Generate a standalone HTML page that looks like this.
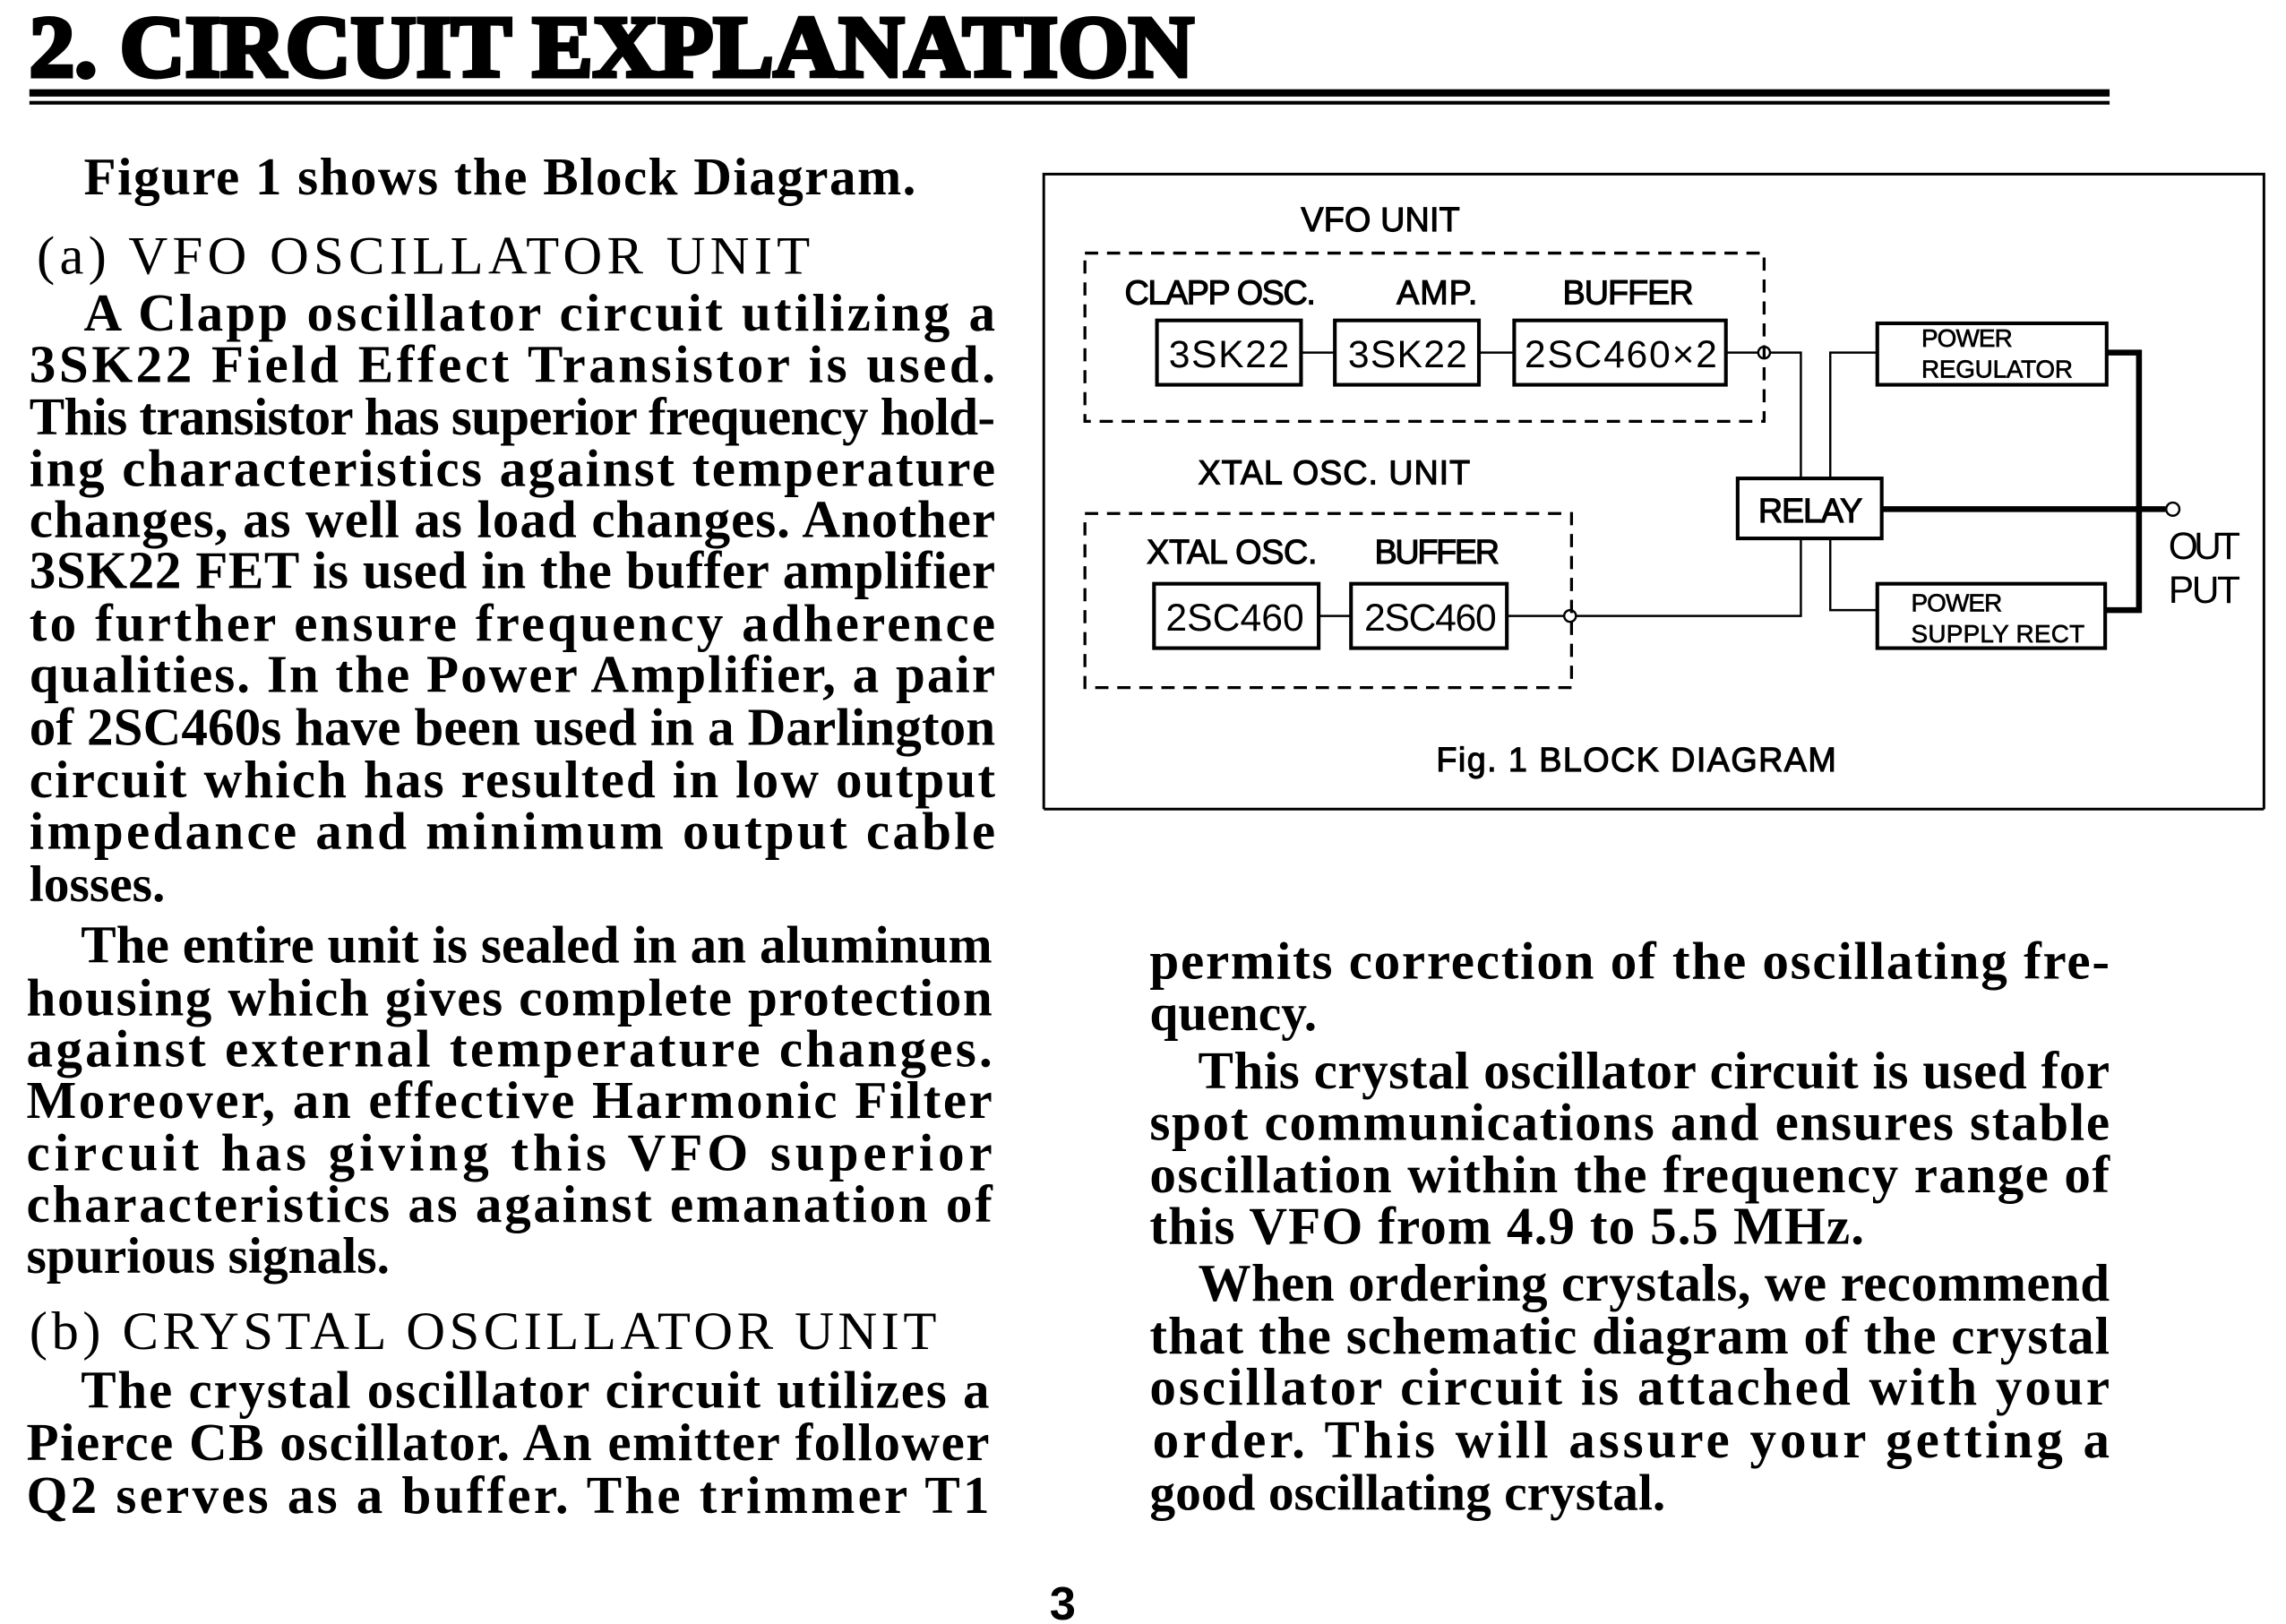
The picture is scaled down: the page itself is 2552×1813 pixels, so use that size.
<!DOCTYPE html>
<html><head><meta charset="utf-8"><style>
html,body{margin:0;padding:0;background:#fff;}
svg{display:block;}
.b{font-family:"Liberation Serif",serif;font-size:36px;font-weight:bold;fill:#000;}
.sh{font-size:35px;}
.h{font-family:"Liberation Serif",serif;font-size:37px;font-weight:normal;fill:#000;}
.d{font-family:"Liberation Sans",sans-serif;font-size:23px;font-weight:normal;fill:#000;stroke:#000;stroke-width:0.7;}
.n{font-family:"Liberation Sans",sans-serif;font-size:26px;fill:#000;}
.s{font-family:"Liberation Sans",sans-serif;font-size:17px;fill:#000;stroke:#000;stroke-width:0.4;}
</style></head><body>
<svg width="2552" height="1813" viewBox="0 0 1555 1110" preserveAspectRatio="none" xmlns="http://www.w3.org/2000/svg">
<rect width="1555" height="1110" fill="#fff"/>
<text x="20" y="52" textLength="792" lengthAdjust="spacingAndGlyphs" style="font-family:'Liberation Serif',serif;font-size:60px;font-weight:900;stroke:#000;stroke-width:3">2. CIRCUIT EXPLANATION</text>
<rect x="20" y="61" width="1415" height="5" fill="#000"/>
<rect x="20" y="69" width="1415" height="2.5" fill="#000"/>

<g class="b" lengthAdjust="spacingAndGlyphs">
<text x="57" y="133" textLength="566">Figure 1 shows the Block Diagram.</text>
<text class="h" x="25" y="187" textLength="526">(a)  VFO OSCILLATOR UNIT</text>
<text x="57" y="226" textLength="620">A Clapp oscillator circuit utilizing a</text>
<text x="20" y="261" textLength="657">3SK22 Field Effect Transistor is used.</text>
<text x="20" y="297" textLength="657">This transistor has superior frequency hold-</text>
<text x="20" y="332" textLength="657">ing characteristics against temperature</text>
<text x="20" y="367" textLength="657">changes, as well as load changes. Another</text>
<text x="20" y="402" textLength="657">3SK22 FET is used in the buffer amplifier</text>
<text x="20" y="438" textLength="657">to further ensure frequency adherence</text>
<text x="20" y="473" textLength="657">qualities. In the Power Amplifier, a pair</text>
<text x="20" y="509" textLength="657">of 2SC460s have been used in a Darlington</text>
<text x="20" y="545" textLength="657">circuit which has resulted in low output</text>
<text x="20" y="580" textLength="657">impedance and minimum output cable</text>
<text class="b sh" x="20" y="616">losses.</text>
<text x="55" y="658" textLength="620">The entire unit is sealed in an aluminum</text>
<text x="18" y="694" textLength="657">housing which gives complete protection</text>
<text x="18" y="729" textLength="657">against external temperature changes.</text>
<text x="18" y="764" textLength="657">Moreover, an effective Harmonic Filter</text>
<text x="18" y="800" textLength="657">circuit has giving this VFO superior</text>
<text x="18" y="835" textLength="657">characteristics as against emanation of</text>
<text class="b sh" x="18" y="870">spurious signals.</text>
<text class="h" x="20" y="922" textLength="617">(b)  CRYSTAL OSCILLATOR UNIT</text>
<text x="55" y="962" textLength="618">The crystal oscillator circuit utilizes a</text>
<text x="18" y="998" textLength="655">Pierce CB oscillator. An emitter follower</text>
<text x="18" y="1034" textLength="655">Q2 serves as a buffer. The trimmer T1</text>

<text x="782" y="669" textLength="653">permits correction of the oscillating fre-</text>
<text class="b sh" x="782" y="704">quency.</text>
<text x="815" y="744" textLength="620">This crystal oscillator circuit is used for</text>
<text x="782" y="779" textLength="653">spot communications and ensures stable</text>
<text x="782" y="815" textLength="653">oscillation within the frequency range of</text>
<text x="782" y="850" textLength="486">this VFO from 4.9 to 5.5 MHz.</text>
<text x="815" y="889" textLength="620">When ordering crystals, we recommend</text>
<text x="782" y="925" textLength="653">that the schematic diagram of the crystal</text>
<text x="782" y="960" textLength="653">oscillator circuit is attached with your</text>
<text x="784" y="996" textLength="651">order. This will assure your getting a</text>
<text class="b sh" x="782" y="1032">good oscillating crystal.</text>
<text x="714" y="1107" textLength="18" style="font-family:'Liberation Sans',sans-serif;font-size:32px">3</text>
</g>

<g fill="none" stroke="#000">
<path d="M710 553 V119 H1540 V553 M710 553 H1540" stroke-width="1.8"/>
<rect x="738" y="173" width="462" height="115" stroke-width="2" stroke-dasharray="9,6"/>
<rect x="738" y="351" width="331" height="119" stroke-width="2" stroke-dasharray="9,6"/>
<rect x="787" y="219" width="98" height="44" stroke-width="2.5"/>
<rect x="908" y="219" width="98" height="44" stroke-width="2.5"/>
<rect x="1030" y="219" width="144" height="44" stroke-width="2.5"/>
<rect x="785" y="399" width="112" height="44" stroke-width="2.5"/>
<rect x="919" y="399" width="106" height="44" stroke-width="2.5"/>
<rect x="1182" y="327" width="98" height="41" stroke-width="2.5"/>
<rect x="1277" y="221" width="156" height="42" stroke-width="2.5"/>
<rect x="1277" y="399" width="155" height="44" stroke-width="2.5"/>
<path d="M885 241 H908 M1006 241 H1030 M1174 241 H1196 M1204 241 H1225 V327 M1225 368 V421 H1072 M1064 421 H1025 M897 421 H919" stroke-width="1.5"/>
<path d="M1277 241 H1245 V327 M1245 368 V417 H1277" stroke-width="1.5"/>
<circle cx="1200" cy="241" r="4" stroke-width="1.5"/>
<circle cx="1068" cy="421" r="4" stroke-width="1.5"/>
<path d="M1433 241 H1455 V417 H1432 M1280 348 H1473" stroke-width="4"/>
<circle cx="1478" cy="348" r="4.5" stroke-width="1.5"/>
</g>
<g lengthAdjust="spacingAndGlyphs">
<text class="d" x="885" y="158" textLength="108">VFO UNIT</text>
<text class="d" x="765" y="208" textLength="130">CLAPP OSC.</text>
<text class="d" x="950" y="208" textLength="55">AMP.</text>
<text class="d" x="1063" y="208" textLength="89">BUFFER</text>
<text class="n" x="795" y="251" textLength="82">3SK22</text>
<text class="n" x="917" y="251" textLength="81">3SK22</text>
<text class="n" x="1037" y="251" textLength="131">2SC460×2</text>
<text class="d" x="815" y="331" textLength="185">XTAL OSC. UNIT</text>
<text class="d" x="780" y="385" textLength="116">XTAL OSC.</text>
<text class="d" x="935" y="385" textLength="85">BUFFER</text>
<text class="n" x="793" y="431" textLength="94">2SC460</text>
<text class="n" x="928" y="431" textLength="90">2SC460</text>
<text class="d" x="1196" y="357" textLength="71">RELAY</text>
<text class="s" x="1307" y="237" textLength="62">POWER</text>
<text class="s" x="1307" y="258" textLength="103">REGULATOR</text>
<text class="s" x="1300" y="418" textLength="62">POWER</text>
<text class="s" x="1300" y="439" textLength="118">SUPPLY RECT</text>
<text class="n" x="1475" y="382" textLength="49">OUT</text>
<text class="n" x="1475" y="412" textLength="49">PUT</text>
<text class="d" x="977" y="527" textLength="272">Fig. 1 BLOCK DIAGRAM</text>
</g>
</svg>
</body></html>
